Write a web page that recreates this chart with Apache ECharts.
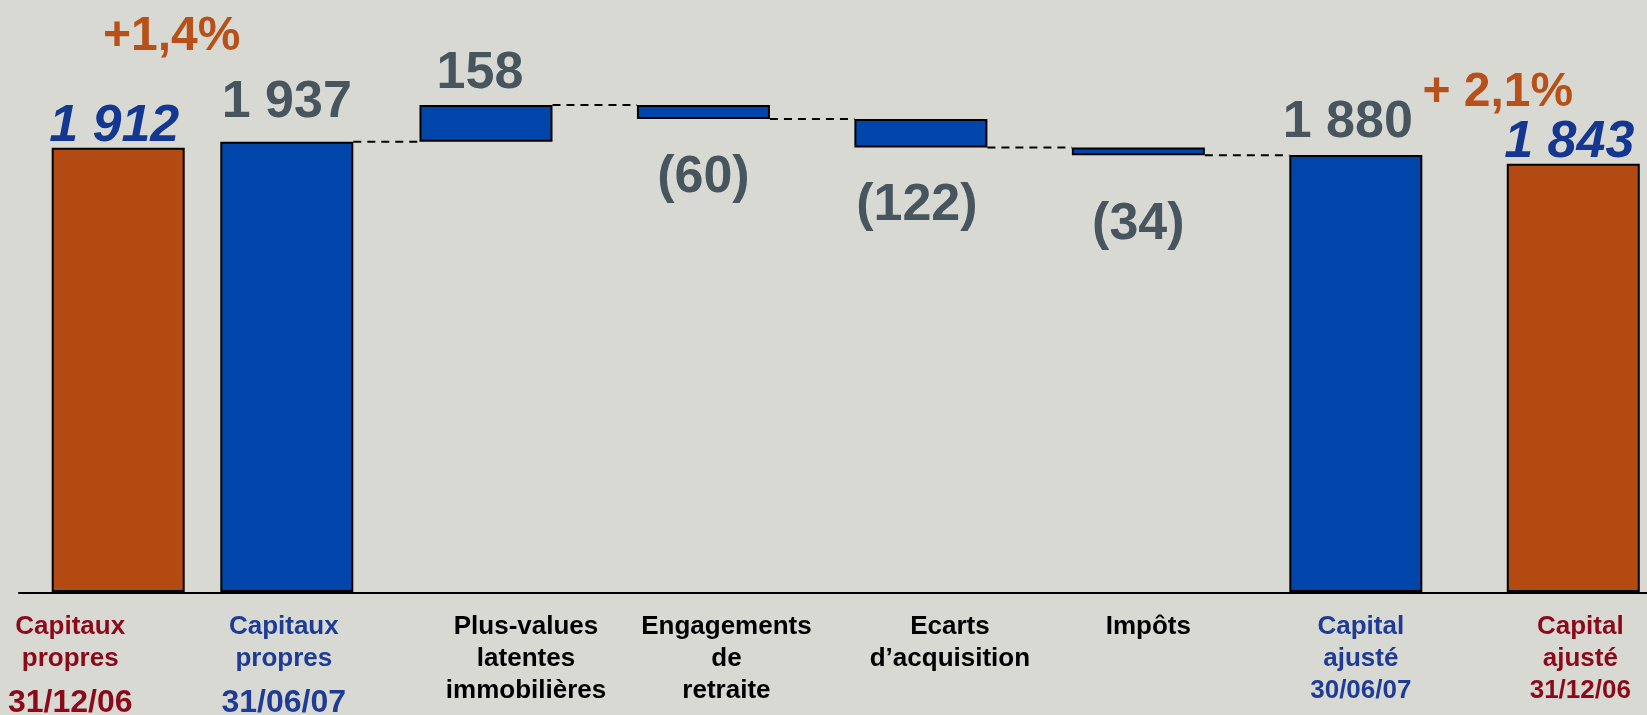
<!DOCTYPE html>
<html>
<head>
<meta charset="utf-8">
<script src="https://cdn.jsdelivr.net/npm/echarts@6/dist/echarts.min.js"></script>
<style>
  html, body { margin: 0; padding: 0; background: #d9d9d4; }
  #main { width: 1647px; height: 715px; }
</style>
</head>
<body>
<div id="main"></div>
<script>
// chart data
const categories = [
  'Capitaux\npropres\n31/12/06',
  'Capitaux\npropres\n31/06/07',
  'Plus-values\nlatentes\nimmobilières',
  'Engagements\nde\nretraite',
  'Ecarts\nd’acquisition',
  'Impôts',
  'Capital\najusté\n30/06/07',
  'Capital\najusté\n31/12/06'
];
const openingValues = [1912, 1937];      // capitaux propres 31/12/06, 31/06/07
const variations = [158, -60, -122, -34]; // plus-values, engagements, écarts, impôts
const closingValues = [1880, 1843];      // capital ajusté 30/06/07, 31/12/06
const growthLabels = ['+1,4%', '+ 2,1%'];

// styles and layout
const FONT = 'Arial, "Liberation Sans", sans-serif';
const ORANGE = '#b34a12';
const BLUE = '#0046aa';
const GREY_TXT = '#47555f';
const BLUE_TXT = '#143791';
const RED_TXT = '#8b0a1a';
const CAT_BLUE = '#1e3c96';
const labelColors = [RED_TXT, CAT_BLUE, '#000', '#000', '#000', '#000', CAT_BLUE, RED_TXT];
const labelShift = [-48, -3, 40, 23, 29, 10, 5, 7];

const BAR_W = 133;
const GRID_A = { left: 33.9, width: 337.2 };   // 2 slots
const GRID_B = { left: 159.8, width: 1522.2 }; // 7 slots, slot 0 is a spacer under bar 2
const pitchA = GRID_A.width / 2;
const pitchB = GRID_B.width / 7;
// gap between bar 2 (left grid) and bar 3 (right grid)
const GAP0 = (GRID_B.left + 1.5 * pitchB - BAR_W / 2) - (GRID_A.left + 1.5 * pitchA + BAR_W / 2);

function fmt(n) {
  const a = Math.abs(n);
  const s = a >= 1000 ? Math.floor(a / 1000) + ' ' + String(a % 1000).padStart(3, '0') : String(a);
  return n < 0 ? '(' + s + ')' : s;
}

function catItem(text, i) {
  const s = labelShift[i];
  return {
    value: text,
    textStyle: {
      color: labelColors[i],
      padding: s >= 0 ? [0, 0, 0, 2 * s] : [0, -2 * s, 0, 0]
    }
  };
}

// waterfall pieces for the right grid
let running = openingValues[1];
const bases = [0];
const visible = ['-'];
const texts = [''];
const connectors = [[0, running]];
variations.forEach((v, i) => {
  const next = running + v;
  bases.push(Math.min(running, next));
  visible.push(Math.abs(v));
  texts.push(fmt(v));
  connectors.push([i + 1, next]);
  running = next;
});
closingValues.forEach(v => {
  bases.push(0);
  visible.push(v);
  texts.push(fmt(v));
});

const rightCats = [''].concat(categories.slice(2)).map((c, i) => i === 0 ? '' : catItem(c, i + 1));
const leftCats = categories.slice(0, 2).map((c, i) => catItem(c, i));

const valueLabel = {
  show: true,
  position: 'top',
  fontFamily: FONT,
  fontSize: 52,
  lineHeight: 52,
  fontWeight: 'bold',
  color: GREY_TXT
};

const leftData = openingValues.map((v, i) => ({
  value: v,
  itemStyle: { color: i === 0 ? ORANGE : BLUE },
  label: i === 0
    ? { fontStyle: 'italic', color: BLUE_TXT, distance: 0, offset: [-4, 5] }
    : { distance: 13 }
}));

const rightLabelCfg = [
  {},
  { position: 'top', distance: 5, offset: [-6, 0] },
  { position: 'bottom', distance: 33 },
  { position: 'bottom', distance: 32, offset: [-4, 0] },
  { position: 'bottom', distance: 43 },
  { position: 'top', distance: 6, offset: [-8, 0] },
  { position: 'top', distance: 0, offset: [-4, 5], fontStyle: 'italic', color: BLUE_TXT }
];
const rightData = visible.map((v, i) => ({
  value: v,
  itemStyle: { color: i === visible.length - 1 ? ORANGE : BLUE },
  label: rightLabelCfg[i]
}));

const gridTop = 11, gridBottom = 123;
const catLabel = {
  interval: 0,
  margin: 19,
  fontFamily: FONT,
  fontSize: 26,
  fontWeight: 'bold',
  lineHeight: 32,
  align: 'center'
};

const chart = echarts.init(document.getElementById('main'));
chart.setOption({
  backgroundColor: '#d9d9d4',
  animation: false,
  grid: [
    { left: GRID_A.left, width: GRID_A.width, top: gridTop, bottom: gridBottom, outerBoundsMode: 'none', containLabel: false },
    { left: GRID_B.left, width: GRID_B.width, top: gridTop, bottom: gridBottom, outerBoundsMode: 'none', containLabel: false },
    { left: 19, right: 0, top: gridTop, bottom: gridBottom - 1, outerBoundsMode: 'none', containLabel: false }
  ],
  xAxis: [
    {
      gridIndex: 0, type: 'category', data: leftCats,
      axisLine: { show: false }, axisTick: { show: false },
      axisLabel: Object.assign({}, catLabel, {
        formatter: v => {
          const parts = v.split('\n');
          return parts[0] + '\n' + parts[1] + '\n{d|' + parts[2] + '}';
        },
        rich: { d: { fontFamily: FONT, fontSize: 32, fontWeight: 'bold', lineHeight: 57 } }
      })
    },
    {
      gridIndex: 1, type: 'category', data: rightCats,
      axisLine: { show: false }, axisTick: { show: false },
      axisLabel: catLabel
    },
    {
      gridIndex: 2, type: 'value',
      axisLine: { show: true, onZero: false, lineStyle: { color: '#000', width: 2 } },
      axisTick: { show: false }, axisLabel: { show: false }, splitLine: { show: false }
    }
  ],
  yAxis: [
    { gridIndex: 0, type: 'value', min: 0, max: 2500, show: false },
    { gridIndex: 1, type: 'value', min: 0, max: 2500, show: false },
    { gridIndex: 2, type: 'value', min: 0, max: 1, show: false }
  ],
  graphic: [
    {
      type: 'text', x: 171.7, y: 36.5, z: 10,
      style: {
        text: growthLabels[0], fill: '#b85019', font: 'bold 48px ' + FONT,
        align: 'center', verticalAlign: 'middle', textAlign: 'center', textVerticalAlign: 'middle'
      }
    },
    {
      type: 'text', x: 1497.8, y: 93, z: 10,
      style: {
        text: growthLabels[1], fill: '#b85019', font: 'bold 48px ' + FONT,
        align: 'center', verticalAlign: 'middle', textAlign: 'center', textVerticalAlign: 'middle'
      }
    }
  ],
  series: [
    {
      type: 'bar', xAxisIndex: 0, yAxisIndex: 0, z: 3,
      barWidth: BAR_W,
      data: leftData,
      itemStyle: { borderColor: '#000', borderWidth: 2 },
      label: Object.assign({}, valueLabel, { formatter: p => fmt(p.value) })
    },
    {
      type: 'bar', xAxisIndex: 1, yAxisIndex: 1, z: 3,
      stack: 'fall', barWidth: BAR_W, silent: true,
      itemStyle: { color: 'transparent' },
      data: bases
    },
    {
      type: 'bar', xAxisIndex: 1, yAxisIndex: 1, z: 3,
      stack: 'fall', barWidth: BAR_W,
      data: rightData,
      itemStyle: { borderColor: '#000', borderWidth: 2 },
      label: Object.assign({}, valueLabel, { formatter: p => texts[p.dataIndex] })
    },
    {
      // dashed connectors between consecutive bars, at the running total
      type: 'custom', xAxisIndex: 1, yAxisIndex: 1, z: 2, silent: true,
      data: connectors,
      renderItem: (params, api) => {
        const p = api.coord([api.value(0), api.value(1)]);
        const x2 = p[0] + pitchB - BAR_W / 2;
        const x1 = api.value(0) === 0 ? x2 - GAP0 : p[0] + BAR_W / 2;
        return {
          type: 'line',
          shape: { x1: x1, y1: p[1], x2: x2, y2: p[1] },
          style: { stroke: '#000', lineWidth: 2, lineDash: [8, 6] }
        };
      }
    }
  ]
});
</script>
</body>
</html>
